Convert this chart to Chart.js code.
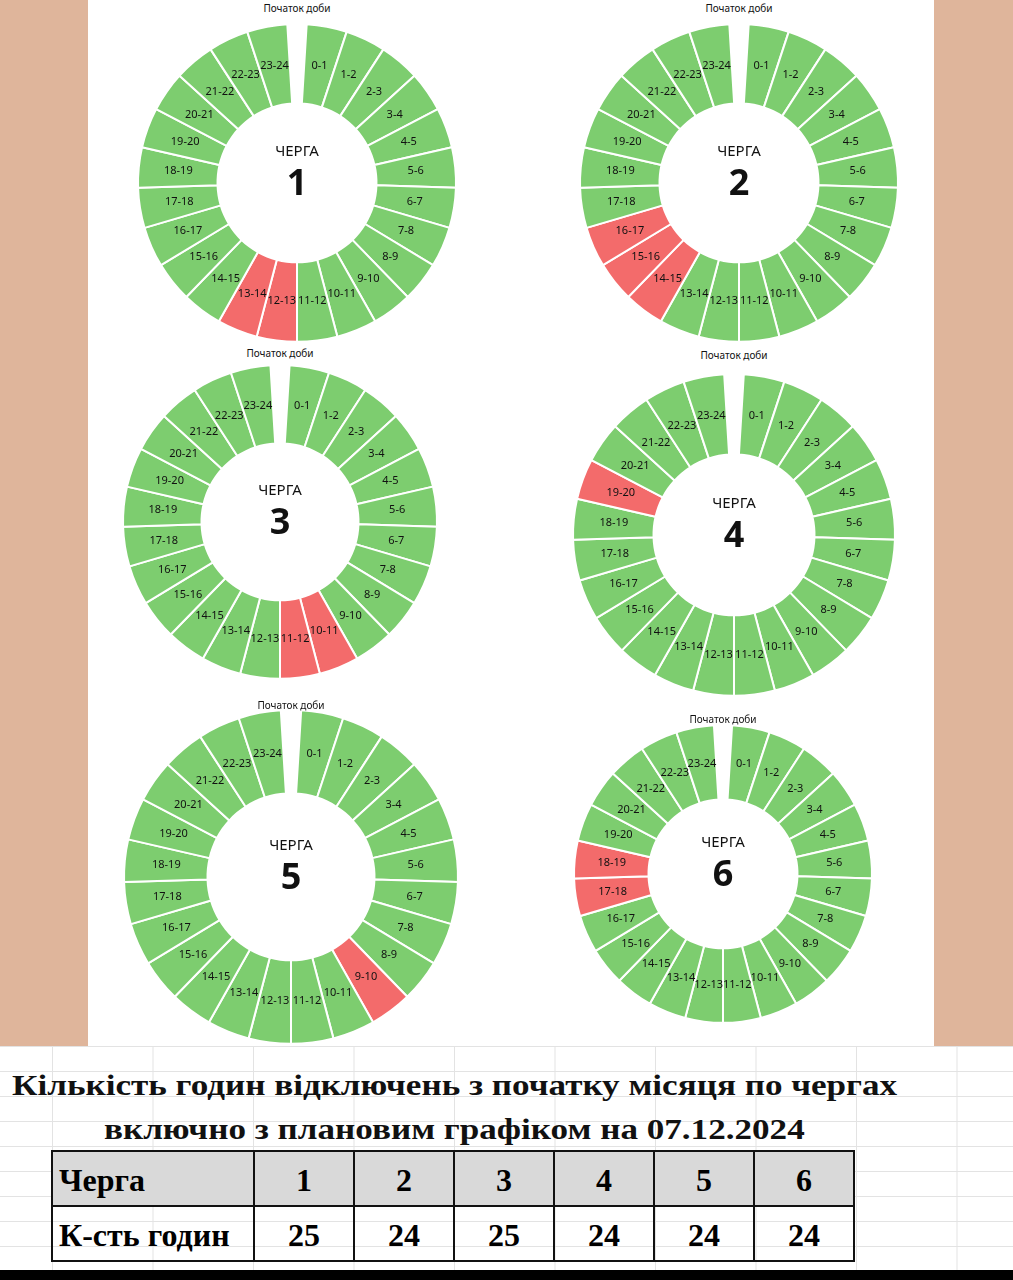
<!DOCTYPE html>
<html><head><meta charset="utf-8">
<script src="https://cdn.jsdelivr.net/npm/chart.js@4"></script>
<style>
body{margin:0;width:1013px;height:1280px;background:#dfb59b;position:relative;overflow:hidden;font-family:"Noto Sans",sans-serif}
#panel{position:absolute;left:88px;top:0;width:846px;height:1046px;background:#fff}
.ch{position:absolute}
.tt{position:absolute;font-size:10px;color:#111;transform:translateX(-50%);white-space:nowrap}
#sheet{position:absolute;left:0;top:1046px;width:1013px;height:224px;background:#fff;
 background-image:linear-gradient(to right,#e3e3e3 1px,transparent 1px),linear-gradient(to bottom,#e3e3e3 1px,transparent 1px);
 background-size:100.5px 25px;background-position:52px 0}
#bar{position:absolute;left:0;top:1270px;width:1013px;height:10px;background:#000}
.h{position:absolute;white-space:nowrap;font-family:"Liberation Serif",serif;font-weight:bold;font-size:30px;color:#111;transform:scaleX(1.17);transform-origin:left top}
table{position:absolute;left:51px;top:1150px;border-collapse:collapse;font-family:"Liberation Serif",serif;font-weight:bold;font-size:32px}
td{border:2px solid #111;height:49px;text-align:center;padding:4px 0 0 0}
tr:first-child td{background:#d9d9d9}
td:first-child{text-align:left;padding-left:6px;width:194px}
td+td{width:98px}
</style></head><body>
<div id="panel"></div>
<div id="sheet"></div>
<div class="h" style="top:1068px;left:12px">Кількість годин відключень з початку місяця по чергах</div>
<div class="h" style="top:1112px;left:104px">включно з плановим графіком на 07.12.2024</div>
<table id="tbl"></table>
<div id="bar"></div>
<script>
// hour slots 0-1 ... 23-24
const hours = Array.from({length:24}, (_, i) => i + '-' + (i + 1));
// outage hours (red) for each queue, by start hour
const outage1 = [12, 13];
const outage2 = [14, 15, 16];
const outage3 = [10, 11];
const outage4 = [19];
const outage5 = [9];
const outage6 = [17, 18];
const outages = [outage1, outage2, outage3, outage4, outage5, outage6];
const queues = ['1', '2', '3', '4', '5', '6'];
const hoursTotal = [25, 24, 25, 24, 24, 24];

// center x, center y, outer radius, title y
const layout = [
  [297, 183, 160, 1], [739, 183, 160, 1],
  [280, 522, 158, 346], [734, 535, 162, 348],
  [291, 877, 168, 698], [723, 874, 150, 712]
];

const GREEN = '#7dcd6f', RED = '#f36b6b';

const labelPlugin = {
  id: 'lbl',
  afterDatasetsDraw(chart) {
    const ctx = chart.ctx, meta = chart.getDatasetMeta(0);
    ctx.save();
    ctx.fillStyle = '#111';
    ctx.font = '11px "Noto Sans"';
    ctx.textAlign = 'center'; ctx.textBaseline = 'middle';
    meta.data.forEach((arc, i) => {
      const p = arc.tooltipPosition();
      ctx.fillText(chart.data.labels[i], p.x, p.y);
    });
    const a = meta.data[0];
    ctx.fillStyle = '#111';
    ctx.font = '15px "Noto Sans"';
    ctx.fillText('ЧЕРГА', a.x, a.y - 31);
    ctx.font = 'bold 36px "Noto Sans"';
    ctx.fillText(chart.options.plugins.lbl.q, a.x, a.y + 2);
    ctx.restore();
  }
};

layout.forEach((L, k) => {
  const [cx, cy, r, ty] = L;
  const size = 2 * r + 4;
  const cv = document.createElement('canvas');
  cv.className = 'ch';
  cv.width = size; cv.height = size;
  cv.style.left = (cx - size / 2) + 'px';
  cv.style.top = (cy - size / 2) + 'px';
  document.body.appendChild(cv);
  const t = document.createElement('div');
  t.className = 'tt'; t.textContent = 'Початок доби';
  t.style.left = cx + 'px'; t.style.top = ty + 'px';
  document.body.appendChild(t);
  new Chart(cv, {
    type: 'doughnut',
    data: {
      labels: hours,
      datasets: [{
        data: hours.map(() => 1),
        backgroundColor: hours.map((h, i) => outages[k].includes(i) ? RED : GREEN),
        borderColor: '#fff', borderWidth: 2
      }]
    },
    options: {
      responsive: false, animation: false,
      cutout: '50%', rotation: 3.5, circumference: 353,
      layout: {padding: 2},
      plugins: {legend: {display: false}, tooltip: {enabled: false}, lbl: {q: queues[k]}}
    },
    plugins: [labelPlugin]
  });
});

const tbl = document.getElementById('tbl');
tbl.innerHTML = '<tr><td>Черга</td>' + queues.map(q => '<td>' + q + '</td>').join('') + '</tr>' +
  '<tr><td>К-сть годин</td>' + hoursTotal.map(v => '<td>' + v + '</td>').join('') + '</tr>';
</script>
</body></html>
